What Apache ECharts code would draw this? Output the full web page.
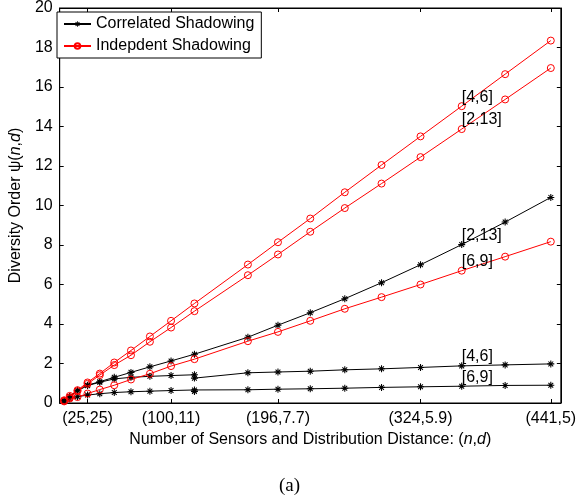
<!DOCTYPE html>
<html>
<head>
<meta charset="utf-8">
<script src="https://cdn.jsdelivr.net/npm/echarts@6/dist/echarts.min.js"></script>
<style>
  html, body { margin: 0; padding: 0; background: #fff; }
  #chart { width: 579px; height: 497px; }
</style>
</head>
<body>
<div id="chart"></div>
<script>
// n = number of sensors (x position), one entry per marker
const nValues = [4, 9, 16, 25, 36, 49, 64, 81, 100, 121, 169, 196, 225, 256, 289, 324, 361, 400, 441];
// the [4,6] and [6,9] correlated curves have two points at n = 121
const nValuesDup = [4, 9, 16, 25, 36, 49, 64, 81, 100, 121, 121, 169, 196, 225, 256, 289, 324, 361, 400, 441];

const corr2_13 = [0.12, 0.33, 0.65, 0.90, 1.08, 1.30, 1.55, 1.83, 2.13, 2.47, 3.33, 3.94, 4.57, 5.28, 6.09, 7.00, 8.02, 9.16, 10.41];
const corr4_6 = [0.12, 0.33, 0.62, 0.88, 1.05, 1.22, 1.30, 1.35, 1.39, 1.43, 1.26, 1.53, 1.57, 1.61, 1.68, 1.73, 1.80, 1.88, 1.93, 1.98];
const corr6_9 = [0.10, 0.22, 0.32, 0.40, 0.47, 0.53, 0.57, 0.60, 0.63, 0.66, 0.58, 0.67, 0.70, 0.72, 0.75, 0.79, 0.82, 0.85, 0.89, 0.90];

const ind4_6 = [0.14, 0.36, 0.65, 1.04, 1.49, 2.05, 2.66, 3.37, 4.16, 5.04, 7.01, 8.14, 9.34, 10.67, 12.05, 13.50, 15.03, 16.65, 18.35];
const ind2_13 = [0.11, 0.28, 0.60, 0.97, 1.41, 1.92, 2.42, 3.10, 3.82, 4.65, 6.47, 7.52, 8.67, 9.87, 11.11, 12.45, 13.87, 15.37, 16.96];
const ind6_9 = [0.08, 0.23, 0.30, 0.48, 0.68, 0.90, 1.19, 1.48, 1.87, 2.22, 3.13, 3.60, 4.16, 4.77, 5.36, 6.00, 6.70, 7.41, 8.17];

const tickN = [25, 100, 196, 324, 441];
const tickLabels = ['(25,25)', '(100,11)', '(196,7.7)', '(324,5.9)', '(441,5)'];

const corrName = 'Correlated Shadowing';
const indName = 'Indepdent Shadowing';
const labelAtN = 361;

const FONT = 'Liberation Sans, Arial, Helvetica, sans-serif';

// MATLAB style '*' marker
const asterisk = 'path://M0 8.5H20V11.5H0Z M8.5 0H11.5V20H8.5Z ' +
  'M2.1 4.2L4.2 2.1L17.9 15.8L15.8 17.9Z M15.8 2.1L17.9 4.2L4.2 17.9L2.1 15.8Z';

function points(ns, ys, tag) {
  return ns.map((n, i) => {
    const item = { value: [n, ys[i]] };
    if (n === labelAtN) {
      item.label = {
        show: true,
        formatter: tag,
        position: ['50%', '50%'],
        align: 'left',
        verticalAlign: 'bottom',
        offset: [0, -1],
        color: '#000',
        fontSize: 16,
        fontFamily: FONT
      };
    }
    return item;
  });
}

function lineSeries(name, ns, ys, tag, color, hollow) {
  return {
    name: name,
    type: 'line',
    data: points(ns, ys, tag),
    symbol: hollow ? 'circle' : asterisk,
    symbolSize: 7,
    showAllSymbol: true,
    lineStyle: { color: color, width: 1 },
    itemStyle: hollow
      ? { color: 'rgba(255,255,255,0)', borderColor: color, borderWidth: 1 }
      : { color: color, borderWidth: 0 },
    emphasis: { disabled: true },
    animation: false
  };
}

const chart = echarts.init(document.getElementById('chart'));

const option = {
  backgroundColor: '#fff',
  animation: false,
  grid: {
    left: 52, top: 7, width: 511, height: 396,
    show: true, borderColor: '#000', borderWidth: 1, backgroundColor: 'transparent'
  },
  legend: {
    data: [corrName, indName],
    orient: 'vertical',
    left: 57, top: 12,
    padding: [4, 7, 4, 6],
    itemWidth: 27,
    itemHeight: 7,
    itemGap: 6,
    borderColor: '#000',
    borderWidth: 1,
    backgroundColor: '#fff',
    textStyle: { fontSize: 16, fontFamily: FONT, color: '#000', lineHeight: 14 }
  },
  xAxis: [{
    type: 'value',
    min: 0, max: 450,
    name: 'Number of Sensors and Distribution Distance: ({i|n},{i|d})',
    nameLocation: 'middle',
    nameGap: 25,
    nameTextStyle: {
      fontSize: 16, fontFamily: FONT, color: '#000',
      rich: { i: { fontStyle: 'italic', fontSize: 16, fontFamily: FONT, color: '#000' } }
    },
    splitLine: { show: false },
    axisLine: { show: true, onZero: false, lineStyle: { color: '#000', width: 1 } },
    axisTick: { show: true, inside: true, length: 4, customValues: tickN, lineStyle: { color: '#000' } },
    axisLabel: {
      customValues: tickN,
      formatter: v => tickLabels[tickN.indexOf(v)],
      fontSize: 16, fontFamily: FONT, color: '#000', margin: 8
    }
  }, {
    type: 'value',
    position: 'top',
    min: 0, max: 450,
    splitLine: { show: false },
    axisLine: { show: true, onZero: false, lineStyle: { color: '#000', width: 1 } },
    axisTick: { show: true, inside: true, length: 4, customValues: tickN, lineStyle: { color: '#000' } },
    axisLabel: { show: false }
  }],
  yAxis: [{
    type: 'value',
    min: 0, max: 20, interval: 2,
    name: 'Diversity Order ψ({i|n},{i|d})',
    nameLocation: 'middle',
    nameGap: 24,
    nameTextStyle: {
      fontSize: 16, fontFamily: FONT, color: '#000',
      rich: { i: { fontStyle: 'italic', fontSize: 16, fontFamily: FONT, color: '#000' } }
    },
    splitLine: { show: false },
    axisLine: { show: true, onZero: false, lineStyle: { color: '#000', width: 1 } },
    axisTick: { show: true, inside: true, length: 4, lineStyle: { color: '#000' } },
    axisLabel: { fontSize: 16, fontFamily: FONT, color: '#000', margin: 7 }
  }, {
    type: 'value',
    position: 'right',
    min: 0, max: 20, interval: 2,
    splitLine: { show: false },
    axisLine: { show: true, onZero: false, lineStyle: { color: '#000', width: 1 } },
    axisTick: { show: true, inside: true, length: 4, lineStyle: { color: '#000' } },
    axisLabel: { show: false }
  }],
  graphic: [{
    type: 'text',
    left: 'center',
    top: 477,
    style: { text: '(a)', font: '19px "Liberation Serif", "Times New Roman", serif', fill: '#000' }
  }],
  series: [
    lineSeries(corrName, nValues, corr2_13, '[2,13]', '#000', false),
    lineSeries(corrName, nValuesDup, corr4_6, '[4,6]', '#000', false),
    lineSeries(corrName, nValuesDup, corr6_9, '[6,9]', '#000', false),
    lineSeries(indName, nValues, ind4_6, '[4,6]', '#ff0000', true),
    lineSeries(indName, nValues, ind2_13, '[2,13]', '#ff0000', true),
    lineSeries(indName, nValues, ind6_9, '[6,9]', '#ff0000', true)
  ]
};

chart.setOption(option);
</script>
</body>
</html>
